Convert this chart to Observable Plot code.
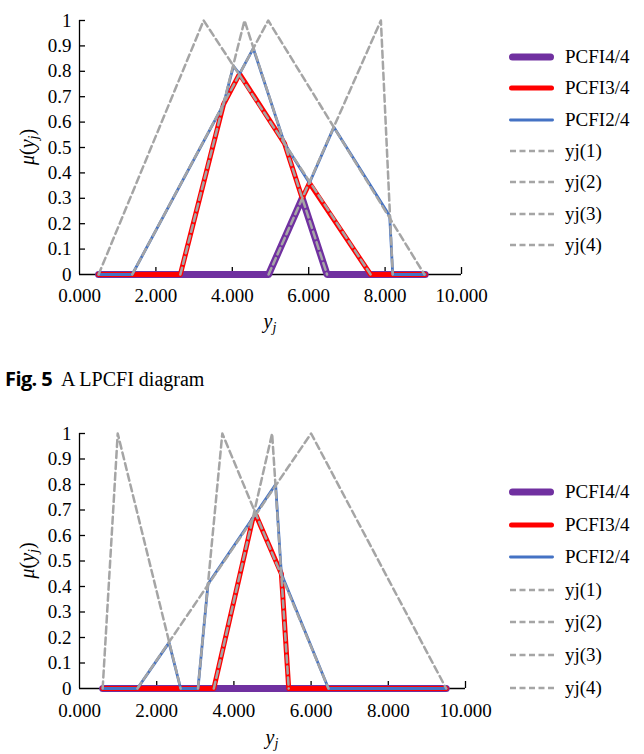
<!DOCTYPE html>
<html><head><meta charset="utf-8">
<script src="https://cdn.jsdelivr.net/npm/d3@7"></script>
<script src="https://cdn.jsdelivr.net/npm/@observablehq/plot@0.6"></script>
<style>
body{margin:0;background:#fff;font-family:"Liberation Serif","Times New Roman",Tinos,Times,"DejaVu Serif",serif;color:#000;}
.chart{position:relative;width:644px;}
.item{position:absolute;left:505px;display:flex;align-items:center;height:22px;font-size:19px;white-space:nowrap;}
.item span{margin-left:8px;}
.cap{position:relative;height:50px;width:644px;}
</style></head><body>
<div id="c1" class="chart"></div>
<div class="cap"><div style="position:absolute;left:5px;top:15px;font-size:20px;white-space:nowrap;"><span style="font-family:'Open Sans',sans-serif;font-weight:700;letter-spacing:-0.6px">Fig. 5</span>&nbsp; A LPCFI diagram</div></div>
<div id="c2" class="chart"></div>
<script>
// ---- shared ticks / names ----
const xTicks = [0, 2, 4, 6, 8, 10];
const yTicks = [0, 0.1, 0.2, 0.3, 0.4, 0.5, 0.6, 0.7, 0.8, 0.9, 1];
const seriesNames = ["PCFI4/4", "PCFI3/4", "PCFI2/4", "yj(1)", "yj(2)", "yj(3)", "yj(4)"];

// ---- upper chart: [y_j, mu] vertices ----
const up_pcfi44 = [[0.5,0],[4.95,0],[5.83,0.30],[6.48,0],[9.05,0]];
const up_pcfi34 = [[0.5,0],[2.64,0],[3.77,0.67],[4.19,0.79],[5.37,0.515],[5.83,0.30],[6.02,0.36],[7.62,0],[9.05,0]];
const up_pcfi24 = [[0.5,0],[1.38,0],[3.77,0.67],[4.03,0.82],[4.19,0.79],[4.55,0.89],[5.37,0.515],[6.02,0.36],[6.66,0.58],[8.12,0.23],[8.2,0],[9.05,0]];
const up_yj1 = [[0.5,0],[3.25,1],[7.62,0]];
const up_yj2 = [[2.64,0],[4.32,1],[6.48,0]];
const up_yj3 = [[1.38,0],[4.94,1],[9.03,0]];
const up_yj4 = [[4.95,0],[7.89,1],[8.2,0]];

// ---- lower chart ----
const lo_pcfi44 = [[0.6,0],[9.5,0]];
const lo_pcfi34 = [[0.6,0],[3.48,0],[4.48,0.66],[4.57,0.68],[5.23,0.45],[5.42,0],[9.5,0]];
const lo_pcfi24 = [[0.6,0],[1.5,0],[2.32,0.18],[2.62,0],[3.07,0],[3.33,0.41],[5.08,0.80],[5.23,0.45],[6.45,0],[9.5,0]];
const lo_yj1 = [[0.6,0],[0.99,1],[2.62,0]];
const lo_yj2 = [[3.07,0],[3.70,1],[6.45,0]];
const lo_yj3 = [[3.48,0],[4.99,1],[5.42,0]];
const lo_yj4 = [[1.5,0],[6.0,1],[9.5,0]];

const colors = ["#7030A0", "#FF0000", "#4472C4", "#A5A5A5"];
const widths = [7, 5, 2.8, 2.5];
const dash = "7,4";
const FONT = "'Liberation Serif', 'Times New Roman', Tinos, Times, 'DejaVu Serif', serif";

function drawChart(el, cfg) {
  const {pcfi44, pcfi34, pcfi24, tris, height, marginTop, marginBottom, marginRight, tickPad, xLabelY, legendTop, legendGap} = cfg;
  const marginLeft = 79;
  const plotH = height - marginTop - marginBottom;
  const plotW = 644 - marginLeft - marginRight;
  const X = d => d[0], Y = d => d[1];
  const plot = Plot.plot({
    width: 644, height, marginLeft, marginRight, marginTop, marginBottom,
    x: {domain: [0, 10]},
    y: {domain: [0, 1]},
    style: {fontFamily: FONT, fontSize: "19px", color: "#000", background: "transparent", overflow: "visible"},
    marks: [
      Plot.ruleY([0], {stroke: "#000", strokeWidth: 1.3}),
      Plot.ruleX([0], {stroke: "#000", strokeWidth: 1.3}),
      Plot.tickX(xTicks.slice(1), {x: d => d, stroke: "#000", strokeWidth: 1.3, insetTop: plotH - 7}),
      Plot.tickY(yTicks.slice(1), {y: d => d, stroke: "#000", strokeWidth: 1.3, insetRight: plotW - 6}),
      Plot.axisX(xTicks, {tickSize: 0, tickPadding: tickPad, tickFormat: d3.format(".3f"), label: null, fontSize: 19, fontFamily: FONT}),
      Plot.axisY(yTicks, {tickSize: 0, tickPadding: 8, tickFormat: d => String(d), label: null, fontSize: 19, fontFamily: FONT}),
      Plot.line(pcfi44, {x: X, y: Y, stroke: colors[0], strokeWidth: widths[0], strokeLinejoin: "round", strokeLinecap: "round"}),
      Plot.line(pcfi34, {x: X, y: Y, stroke: colors[1], strokeWidth: widths[1], strokeLinejoin: "round", strokeLinecap: "round"}),
      Plot.line(pcfi24, {x: X, y: Y, stroke: colors[2], strokeWidth: widths[2], strokeLinejoin: "round", strokeLinecap: "round"}),
      ...tris.map(t => Plot.line(t, {x: X, y: Y, stroke: colors[3], strokeWidth: widths[3], strokeDasharray: dash}))
    ]
  });
  const svg = d3.select(plot);
  const yMid = marginTop + plotH / 2;
  const yl = svg.append("text")
    .attr("transform", `translate(34,${yMid}) rotate(-90)`)
    .attr("text-anchor", "middle").attr("font-size", 20).attr("fill", "#000")
    .attr("font-family", FONT);
  yl.append("tspan").attr("font-style", "italic").text("μ");
  yl.append("tspan").text("(");
  yl.append("tspan").attr("font-style", "italic").text("y");
  yl.append("tspan").attr("font-style", "italic").attr("font-size", 14).attr("dy", 4).text("j");
  yl.append("tspan").attr("dy", -4).text(")");
  const xl = svg.append("text")
    .attr("x", marginLeft + plotW / 2).attr("y", xLabelY)
    .attr("text-anchor", "middle").attr("font-size", 20).attr("fill", "#000")
    .attr("font-family", FONT);
  xl.append("tspan").attr("font-style", "italic").text("y");
  xl.append("tspan").attr("font-style", "italic").attr("font-size", 14).attr("dy", 4).text("j");
  el.appendChild(plot);
  el.style.height = height + "px";

  seriesNames.forEach((name, i) => {
    const k = Math.min(i, 3);
    const item = document.createElement("div");
    item.className = "item";
    item.style.top = (legendTop + i * legendGap - 11) + "px";
    const sw = d3.create("svg").attr("width", 52).attr("height", 22);
    const dashed = k === 3;
    sw.append("line")
      .attr("x1", dashed ? 5 : 4 + widths[k] / 2).attr("x2", dashed ? 49 : 49 - widths[k] / 2)
      .attr("y1", 11).attr("y2", 11)
      .attr("stroke", colors[k]).attr("stroke-width", widths[k])
      .attr("stroke-linecap", dashed ? "butt" : "round")
      .attr("stroke-dasharray", dashed ? "6,3.5" : null);
    item.appendChild(sw.node());
    const s = document.createElement("span");
    s.textContent = name;
    item.appendChild(s);
    el.appendChild(item);
  });
}

drawChart(document.getElementById("c1"), {
  pcfi44: up_pcfi44, pcfi34: up_pcfi34, pcfi24: up_pcfi24,
  tris: [up_yj1, up_yj2, up_yj3, up_yj4],
  height: 350, marginTop: 20, marginBottom: 76, marginRight: 183, tickPad: 14,
  xLabelY: 328, legendTop: 57, legendGap: 31.3
});
drawChart(document.getElementById("c2"), {
  pcfi44: lo_pcfi44, pcfi34: lo_pcfi34, pcfi24: lo_pcfi24,
  tris: [lo_yj1, lo_yj2, lo_yj3, lo_yj4],
  height: 354, marginTop: 33, marginBottom: 66, marginRight: 179, tickPad: 15,
  xLabelY: 344, legendTop: 92, legendGap: 32.6
});
</script>
</body></html>
